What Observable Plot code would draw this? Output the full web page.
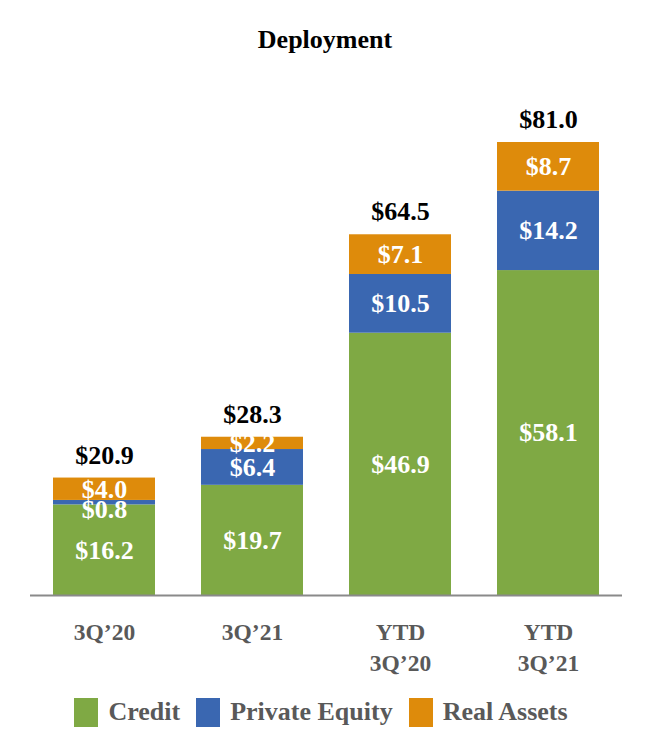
<!DOCTYPE html>
<html>
<head>
<meta charset="utf-8">
<script src="https://cdn.jsdelivr.net/npm/d3@7"></script>
<script src="https://cdn.jsdelivr.net/npm/@observablehq/plot@0.6"></script>
<style>
  body { margin: 0; background: #fff; font-family: "Liberation Serif", "Times New Roman", serif; }
  #wrap { width: 650px; }
  #title { height: 70px; box-sizing: border-box; padding-top: 25px; text-align: center; font-size: 26px; font-weight: bold; line-height: 30px; color: #000; }
  #legend { display: flex; justify-content: center; align-items: center; margin-top: 12px; margin-left: 8px; font-size: 26px; font-weight: bold; color: #595959; }
  #legend .sw { width: 24px; height: 29px; margin-right: 10px; }
  #legend .lab { margin-right: 16px; }
</style>
</head>
<body>
<div id="wrap">
  <div id="title">Deployment</div>
  <div id="chart"></div>
  <div id="legend"></div>
</div>
<script>
const categories = ["3Q’20", "3Q’21", "YTD\n3Q’20", "YTD\n3Q’21"];
const seriesNames = ["Credit", "Private Equity", "Real Assets"];
const seriesColors = ["#7FA944", "#3A67B1", "#DE8B0B"];
const credit = [16.2, 19.7, 46.9, 58.1];
const privateEquity = [0.8, 6.4, 10.5, 14.2];
const realAssets = [4.0, 2.2, 7.1, 8.7];
const totals = [20.9, 28.3, 64.5, 81.0];

const seriesValues = [credit, privateEquity, realAssets];
const rows = [];
categories.forEach((c, ci) => {
  let base = 0;
  seriesNames.forEach((s, si) => {
    const v = seriesValues[si][ci];
    rows.push({ category: c, series: s, value: v, mid: base + v / 2 });
    base += v;
  });
});
const totalRows = categories.map((c, i) => ({ category: c, total: totals[i] }));

const fmt = v => "$" + v.toFixed(1);

const plot = Plot.plot({
  width: 650,
  height: 615,
  marginLeft: 30,
  marginRight: 28,
  marginTop: 72,
  marginBottom: 90,
  style: { fontFamily: "Liberation Serif, Times New Roman, serif", background: "#fff" },
  x: { domain: categories, paddingInner: 0.31, paddingOuter: 0.155, axis: null },
  y: { domain: [0, 81], axis: null },
  color: { domain: seriesNames, range: seriesColors },
  marks: [
    Plot.barY(rows, Plot.stackY({ x: "category", y: "value", z: "series", order: seriesNames, fill: "series" })),
    Plot.text(rows.filter(d => d.value >= 1), {
      x: "category", y: "mid", text: d => fmt(d.value),
      fill: "white", fontSize: 26, fontWeight: "bold"
    }),
    Plot.text(rows.filter(d => d.value < 1), {
      x: "category", y: "mid", text: d => fmt(d.value),
      fill: "white", fontSize: 26, fontWeight: "bold", dy: 7
    }),
    Plot.text(totalRows, {
      x: "category", y: "total", text: d => fmt(d.total),
      fill: "black", fontSize: 26, fontWeight: "bold", dy: -23
    }),
    Plot.ruleY([0], { stroke: "#8a8a8a", strokeWidth: 2 }),
    Plot.text(categories, {
      x: d => d, y: () => 0, text: d => d, lineAnchor: "top", dy: 23,
      lineHeight: 1.3, fill: "#595959", fontSize: 23.5, fontWeight: "bold"
    })
  ]
});
document.getElementById("chart").appendChild(plot);

const legend = document.getElementById("legend");
seriesNames.forEach((s, i) => {
  const sw = document.createElement("span");
  sw.className = "sw";
  sw.style.background = seriesColors[i];
  const lab = document.createElement("span");
  lab.className = "lab";
  lab.textContent = s;
  legend.appendChild(sw);
  legend.appendChild(lab);
});
</script>
</body>
</html>
